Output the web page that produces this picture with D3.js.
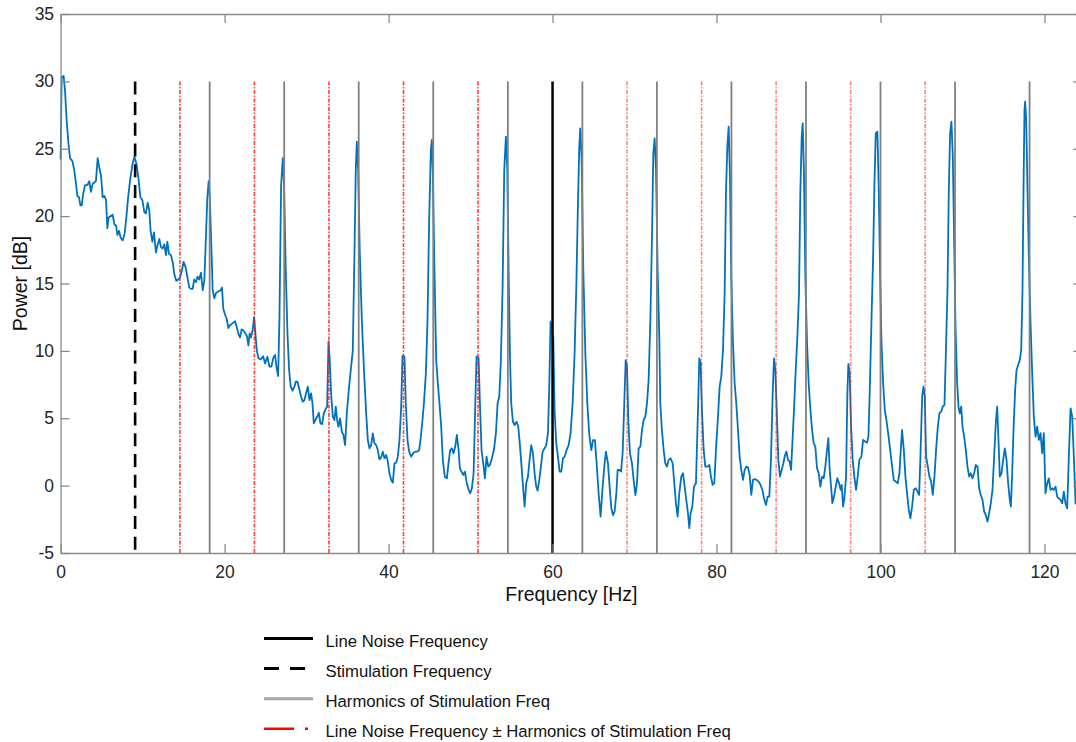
<!DOCTYPE html>
<html>
<head>
<meta charset="utf-8">
<script src="https://cdn.jsdelivr.net/npm/d3@7"></script>
<style>
  html, body { margin: 0; padding: 0; background: #fff; }
  svg { display: block; font-family: "Liberation Sans", Arial, Helvetica, sans-serif; }
</style>
</head>
<body>
<svg id="chart" width="1076" height="742"></svg>
<script>
// Power spectrum (frequency in Hz, power in dB)
const freqHz = [
  0,0.13,0.37,0.54,0.74,0.94,1.15,1.43,1.67,1.88,2.04,2.24,2.41,2.57,2.77,2.98,3.26,3.5,3.7,3.91,
  4.11,4.31,4.52,4.72,4.93,5.13,5.33,5.54,5.7,5.86,6.11,6.35,6.55,6.76,6.92,7.12,7.33,7.57,7.81,8.02,
  8.22,8.46,8.75,9.0,9.24,9.48,9.73,9.97,10.21,10.41,10.62,10.82,10.98,11.19,11.39,11.63,11.84,12.04,12.24,12.45,
  12.65,12.85,13.02,13.22,13.46,13.67,13.87,14.11,14.36,14.6,14.8,15.0,15.25,15.46,15.7,15.9,16.1,16.3,16.5,16.7,
  16.9,17.12,17.33,17.53,17.69,17.9,18.06,18.2,18.38,18.55,18.75,18.95,19.24,19.52,19.68,19.85,20.05,20.25,20.46,20.66,
  20.87,21.07,21.27,21.47,21.67,21.88,22.08,22.33,22.53,22.73,22.9,23.06,23.22,23.43,23.6,
  23.92,24.13,24.41,24.7,24.94,25.22,25.47,25.71,25.96,26.16,26.32,26.53,26.69,26.89,27.1,27.26,27.46,27.67,27.87,28.07,
  28.28,28.52,28.68,28.89,29.09,29.33,29.54,29.74,29.94,30.15,30.35,30.55,30.72,30.88,31.08,31.29,31.49,31.69,31.9,32.1,
  32.3,32.51,32.67,32.83,32.99,33.2,33.4,33.56,33.73,33.89,34.09,34.3,34.5,34.7,34.91,35.11,35.35,35.64,35.84,36.0,
  36.13,36.29,36.49,36.74,37.02,37.27,37.47,37.67,37.88,38.08,38.28,38.49,38.69,38.89,39.1,39.3,39.5,39.71,39.91,40.11,
  40.32,40.52,40.72,40.93,41.13,41.33,41.54,41.7,41.94,42.1,42.31,42.51,42.76,43.0,43.24,43.53,43.73,43.94,44.14,44.34,
  44.55,44.75,44.95,45.16,45.28,45.4,45.6,45.81,46.01,46.21,46.42,46.62,46.86,47.11,47.31,47.52,47.72,47.92,
  48.13,48.33,48.54,48.7,48.9,49.11,49.31,49.51,49.76,49.96,50.16,50.37,50.57,50.73,50.98,51.14,51.34,51.55,51.75,51.95,
  52.16,52.36,52.6,52.85,53.09,53.3,53.5,53.7,53.91,54.11,54.31,54.48,54.64,54.8,54.96,55.17,55.37,55.61,55.82,56.02,
  56.22,56.43,56.59,56.79,57.0,57.2,57.4,57.61,57.81,58.01,58.18,58.38,58.58,58.79,59.03,59.23,59.44,59.6,59.76,59.93,
  60.09,60.25,60.45,60.66,60.86,61.07,61.27,61.47,61.72,61.96,62.2,62.45,62.69,62.9,63.1,63.26,63.38,63.55,63.75,64.0,
  64.24,64.48,64.73,64.93,65.17,65.38,65.62,65.86,66.11,66.31,66.51,66.76,66.96,67.17,67.37,67.57,67.78,67.94,68.14,68.35,
  68.55,68.75,68.92,69.08,69.24,69.44,69.69,69.89,70.1,70.3,70.5,70.71,70.91,71.11,71.31,71.52,71.72,71.93,72.13,72.29,
  72.45,72.62,72.82,73.02,
  73.14,73.34,73.55,73.75,73.95,74.16,74.4,74.65,74.85,75.05,75.26,75.46,75.7,75.91,76.11,76.31,76.52,76.68,76.84,77.05,
  77.25,77.49,77.74,77.9,78.06,78.22,78.43,78.63,78.88,79.12,79.32,79.53,79.73,79.93,80.18,80.38,80.58,80.79,80.99,81.15,
  81.32,81.48,81.64,81.8,82.01,82.21,82.41,82.62,82.82,83.02,83.23,83.43,83.63,83.84,84.04,84.24,84.45,84.65,84.89,85.14,
  85.38,85.59,85.79,86.03,86.24,86.44,86.64,86.85,87.01,87.17,87.34,87.54,87.74,87.95,88.15,88.31,88.52,88.72,88.92,89.09,
  89.25,89.45,89.66,89.86,90.06,90.22,90.39,90.51,90.67,90.83,91.04,91.24,91.45,91.65,91.85,92.05,92.26,92.46,92.66,92.87,
  93.07,93.27,93.48,93.64,93.8,93.97,94.13,94.33,94.54,94.74,94.94,95.15,95.27,95.43,95.59,95.8,95.96,96.08,96.24,96.41,
  96.61,96.81,97.02,97.22,97.42,
  97.67,97.88,98.12,98.36,98.53,98.69,98.89,99.1,99.26,99.42,99.62,99.79,99.95,100.11,100.32,100.52,100.72,100.93,101.13,101.37,
  101.62,101.86,102.1,102.31,102.47,102.63,102.84,103.04,103.24,103.45,103.65,103.85,104.06,104.3,104.51,104.71,104.87,105.08,105.24,105.4,
  105.56,105.77,105.97,106.17,106.38,106.58,106.78,106.99,107.19,107.39,107.6,107.8,107.96,108.17,108.33,108.49,108.65,108.82,108.98,109.14,
  109.35,109.51,109.67,109.84,110.0,110.2,110.4,110.61,110.81,111.01,111.22,111.42,111.62,111.83,112.03,112.23,112.44,112.64,112.84,113.05,
  113.25,113.45,113.66,113.86,114.06,114.23,114.39,114.55,114.76,114.96,115.16,115.37,115.57,115.77,115.9,116.06,116.22,116.42,116.59,116.79,
  116.99,117.16,117.32,117.44,117.56,117.64,117.77,117.93,118.09,118.3,118.5,118.7,118.91,119.11,119.31,119.52,119.72,119.92,120.12,120.33,
  120.53,120.74,120.94,121.14,121.35,121.55,121.75,121.96,122.16,122.36,122.56,122.77,122.97,123.18,123.38,123.58,123.79,124.0
];
const powerDb = [
  24.2,30.3,30.4,29.3,27.1,25.5,24.3,24.1,23.4,22.4,21.5,21.4,20.8,20.8,21.7,22.3,22.3,22.6,21.8,22.4,
  22.5,22.6,24.3,23.6,23.0,21.4,21.5,21.2,19.1,19.9,20.0,20.1,19.4,19.3,18.6,18.9,18.4,18.2,18.7,19.9,
  21.3,22.6,23.8,24.4,23.9,22.9,21.4,21.2,20.3,20.2,21.0,20.4,18.9,18.1,18.8,17.3,17.9,18.3,17.7,17.6,
  17.9,17.1,18.1,17.2,17.1,16.6,15.7,15.2,15.3,15.5,16.0,16.6,16.2,15.5,14.7,14.6,14.6,15.3,15.1,15.5,
  15.3,15.8,14.5,15.2,17.9,21.4,22.6,21.4,17.9,14.5,13.9,14.3,14.4,14.5,14.7,13.1,12.7,12.4,11.7,11.9,
  12.0,12.1,12.2,11.8,11.3,11.0,11.6,11.5,11.3,11.1,10.4,11.3,11.0,11.6,12.5,
  10.06,9.45,9.37,9.6,9.07,9.57,8.83,8.83,9.52,9.7,8.83,8.13,12.3,22.2,24.3,22.2,16.0,11.3,8.58,7.34,
  7.04,7.34,7.71,7.71,7.22,6.6,6.23,6.35,6.85,7.34,6.35,6.85,6.11,4.62,4.87,5.11,5.41,4.62,4.57,5.36,
  5.66,5.86,10.68,9.32,6.85,5.11,4.87,5.86,4.87,4.37,4.99,4.0,3.76,3.01,5.36,6.85,8.33,10.06,17.24,23.42,
  25.52,23.42,17.24,12.29,8.33,5.36,3.38,2.77,3.01,3.88,3.14,3.01,2.64,1.95,2.1,2.52,2.02,2.27,1.78,0.91,
  0.42,0.22,1.65,1.7,2.15,3.38,5.86,9.62,9.57,6.11,3.38,2.52,2.15,2.4,2.52,2.52,2.64,3.63,4.87,6.35,
  8.33,12.29,19.71,24.9,25.65,23.17,16.0,9.32,7.59,6.11,4.37,1.9,0.66,0.54,1.65,2.64,2.77,2.4,
  2.9,3.76,2.64,1.28,1.04,0.79,1.04,0.29,-0.32,-0.57,-0.2,0.91,5.86,9.57,9.45,6.11,2.64,1.65,0.54,2.15,
  1.41,1.53,2.02,2.64,3.88,6.11,6.6,9.32,14.76,23.42,25.9,23.42,16.0,9.82,6.11,4.74,4.5,4.74,4.37,3.01,
  1.41,-0.32,-1.56,0.17,0.66,1.9,3.01,2.4,0.91,-0.08,-0.37,0.42,1.41,2.52,2.77,3.01,3.88,7.34,12.17,11.3,
  11.05,5.61,3.14,2.15,1.04,1.04,2.02,2.15,2.64,3.01,3.88,6.11,9.82,14.76,20.95,25.15,26.51,24.16,16.0,9.82,
  6.11,3.76,2.64,3.38,3.38,1.65,-0.57,-2.3,-0.08,1.41,2.52,1.65,-0.08,-1.68,-2.18,-1.93,-0.57,1.16,1.16,1.04,
  2.4,6.11,9.32,8.83,4.87,2.4,1.65,0.42,-0.7,0.17,2.77,2.89,4.13,4.87,5.11,6.11,7.84,12.29,18.47,24.66,
  25.77,23.42,16.0,11.05,
  6.11,4.13,2.65,1.66,1.41,1.91,2.03,1.66,0.18,-1.3,-2.3,-0.56,0.67,0.92,-0.07,-1.06,-2.05,-3.16,-2.05,-1.55,
  -0.07,0.18,5.62,9.45,9.08,5.62,2.65,1.41,1.41,1.54,0.67,0.05,0.18,2.65,5.12,7.35,8.09,10.07,14.28,21.7,
  25.16,26.64,22.93,15.51,10.57,7.6,6.11,4.13,2.16,1.17,0.43,1.17,1.41,1.36,0.8,-0.69,0.43,0.48,0.43,0.3,
  0.05,-0.32,-0.94,-1.43,-0.81,-0.81,1.91,6.86,9.45,8.59,5.62,1.91,0.67,1.17,1.66,2.16,2.53,1.91,1.79,1.17,
  3.15,5.62,8.59,11.06,14.28,21.7,25.9,26.89,22.93,15.51,10.57,7.6,5.62,4.13,3.15,2.9,1.29,0.92,-0.07,0.67,
  0.55,1.41,2.65,3.52,1.17,-0.07,-1.3,-0.81,-0.07,0.55,0.18,-0.32,0.05,-1.55,-0.94,0.67,6.86,9.03,8.34,4.38,
  1.91,0.67,-0.32,0.67,1.91,
  2.15,3.39,3.27,3.19,3.64,7.1,12.05,17.0,22.43,26.14,26.27,21.94,15.76,10.81,7.6,5.62,4.87,3.89,2.9,1.66,
  0.42,0.3,0.17,0.92,2.65,4.13,2.65,0.67,-0.57,-1.8,-2.42,-1.56,-0.32,-0.2,-0.44,-0.69,2.15,6.6,7.35,6.6,
  2.15,1.41,0.67,0.3,-0.69,0.67,2.65,4.38,5.37,5.49,5.86,5.99,9.57,14.52,21.94,26.14,27.01,24.41,18.23,12.05,
  7.6,5.86,5.37,5.86,4.38,3.64,2.65,1.41,0.67,0.92,0.54,0.92,1.53,1.41,-0.2,-0.69,-1.06,-1.93,-2.18,-2.67,
  -2.05,-1.31,-0.32,2.15,4.63,5.86,3.39,0.67,0.92,1.91,2.77,1.91,0.17,-1.06,-1.56,0.92,4.13,7.1,8.58,8.95,
  9.32,10.07,14.52,21.94,27.88,28.5,27.13,21.94,17.0,12.05,8.34,5.12,3.64,4.38,3.39,3.89,2.4,3.89,-0.57,0.17,
  0.54,-0.32,-0.2,-0.32,-0.07,-0.81,-0.94,-1.06,-1.31,-0.44,-1.31,-1.68,2.15,5.74,5.12,2.15,-1.31,-1.4
];

// Marker frequencies (Hz)
const lineNoiseHz = [60];
const stimulationHz = [9.09];
const harmonicsHz = [18.18, 27.27, 36.36, 45.45, 54.55, 63.64, 72.73, 81.82, 90.91, 100, 109.09, 118.18];
const lineNoiseMinusHz = [14.55, 23.64, 32.73, 41.82, 50.91];
const lineNoisePlusHz = [69.09, 78.18, 87.27, 96.36, 105.45];
const markerTopDb = 30;

// Axes
const xDomain = [0, 124.6];
const yDomain = [-5, 35];
const xTickValues = [0, 20, 40, 60, 80, 100, 120];
const yTickValues = [-5, 0, 5, 10, 15, 20, 25, 30, 35];
const xLabel = "Frequency [Hz]";
const yLabel = "Power [dB]";

const legendLabels = [
  "Line Noise Frequency",
  "Stimulation Frequency",
  "Harmonics of Stimulation Freq",
  "Line Noise Frequency \u00B1 Harmonics of Stimulation Freq"
];

const svg = d3.select("#chart");
const plot = { left: 60.6, top: 14, right: 1082.2, bottom: 553 };

const x = d3.scaleLinear().domain(xDomain).range([plot.left, plot.right]);
const y = d3.scaleLinear().domain(yDomain).range([plot.bottom, plot.top]);

const axisColor = "#8a8a8a";
const labelColor = "#262626";

// Spectrum line
const spectrum = freqHz.map((f, i) => ({ f, p: powerDb[i] }));
const line = d3.line().x(d => x(d.f)).y(d => y(d.p));

svg.append("path")
  .datum(spectrum)
  .attr("d", line)
  .attr("fill", "none")
  .attr("stroke", "#0072BD")
  .attr("stroke-width", 1.8)
  .attr("stroke-linejoin", "round");

// Vertical marker lines
function markers(values, style) {
  svg.append("g").selectAll("line")
    .data(values)
    .join("line")
    .attr("x1", d => x(d)).attr("x2", d => x(d))
    .attr("y1", y(markerTopDb)).attr("y2", y(yDomain[0]))
    .attr("stroke", style.color)
    .attr("stroke-width", style.width)
    .attr("stroke-opacity", style.opacity || 1)
    .attr("stroke-dasharray", style.dash || null);
}

markers(lineNoiseMinusHz, { color: "#ff1a1a", width: 1.6, opacity: 0.85, dash: "4,1.5,1.5,1.5" });
markers(lineNoisePlusHz, { color: "#ff1a1a", width: 1.6, opacity: 0.55, dash: "4,1.5,1.5,1.5" });
markers(harmonicsHz, { color: "#808080", width: 1.8 });
markers(stimulationHz, { color: "#000", width: 2.6, dash: "13,7.7" });
markers(lineNoiseHz, { color: "#000", width: 2.5 });

// Axis box with inward ticks
const fontTick = 17.5;
const plainNumber = d => String(d);

function styleAxis(g) {
  g.select(".domain").attr("stroke", axisColor).attr("stroke-width", 1.3);
  g.selectAll(".tick line").attr("stroke", axisColor).attr("stroke-width", 1.3);
  g.selectAll(".tick text").attr("fill", labelColor).attr("font-size", fontTick)
    .attr("font-family", "Liberation Sans, Arial, sans-serif");
}

svg.append("g")
  .attr("transform", `translate(0,${plot.bottom})`)
  .call(d3.axisBottom(x).tickValues(xTickValues).tickFormat(plainNumber)
    .tickSizeInner(-9).tickSizeOuter(0).tickPadding(13))
  .call(styleAxis);

svg.append("g")
  .attr("transform", `translate(0,${plot.top})`)
  .call(d3.axisTop(x).tickValues(xTickValues).tickSizeInner(-9).tickSizeOuter(0).tickFormat(""))
  .call(styleAxis);

svg.append("g")
  .attr("transform", `translate(${plot.left},0)`)
  .call(d3.axisLeft(y).tickValues(yTickValues).tickFormat(plainNumber)
    .tickSizeInner(-9).tickSizeOuter(0).tickPadding(6.5))
  .call(styleAxis);

svg.append("g")
  .attr("transform", `translate(${plot.right},0)`)
  .call(d3.axisRight(y).tickValues(yTickValues).tickSizeInner(-9).tickSizeOuter(0).tickFormat(""))
  .call(styleAxis);

// Axis titles
svg.append("text")
  .attr("x", (plot.left + plot.right) / 2)
  .attr("y", 601)
  .attr("text-anchor", "middle")
  .attr("font-size", 19.5)
  .attr("fill", "#111")
  .text(xLabel);

svg.append("text")
  .attr("transform", `translate(27,${(plot.top + plot.bottom) / 2}) rotate(-90)`)
  .attr("text-anchor", "middle")
  .attr("font-size", 19.5)
  .attr("fill", "#111")
  .text(yLabel);

// Legend
const legendStyles = [
  { color: "#000", width: 3, dash: null },
  { color: "#000", width: 3, dash: "15,11" },
  { color: "#a8a8a8", width: 3, dash: null },
  { color: "#ff0000", width: 2.6, dash: "30,11,3,30" }
];

const legend = svg.append("g");
const rows = legend.selectAll("g")
  .data(legendLabels)
  .join("g")
  .attr("transform", (d, i) => `translate(0,${638.5 + i * 30.1})`);

rows.append("line")
  .attr("x1", 264).attr("x2", 313)
  .attr("y1", 0).attr("y2", 0)
  .attr("stroke", (d, i) => legendStyles[i].color)
  .attr("stroke-width", (d, i) => legendStyles[i].width)
  .attr("stroke-dasharray", (d, i) => legendStyles[i].dash);

rows.append("text")
  .attr("x", 325.5)
  .attr("y", 8)
  .attr("font-size", 16.7)
  .attr("fill", "#111")
  .text(d => d);
</script>
</body>
</html>
